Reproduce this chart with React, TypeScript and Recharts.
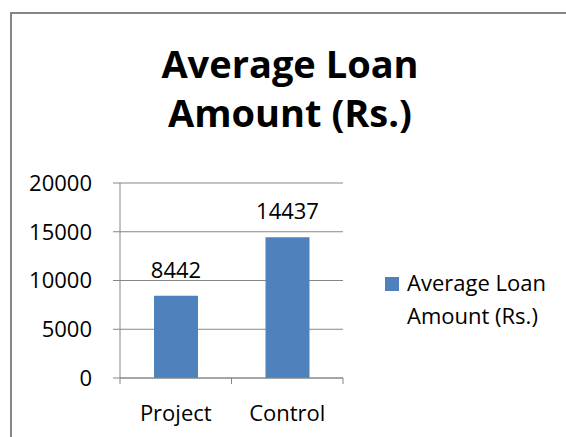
import React from 'react';
import { BarChart, Bar, XAxis, YAxis, CartesianGrid, Legend, LabelList } from 'recharts';

const categories = ['Project', 'Control'];
const loanAmounts = [8442, 14437];
const yTicks = [0, 5000, 10000, 15000, 20000];
const seriesName = 'Average Loan Amount (Rs.)';
const titleLines = ['Average Loan', 'Amount (Rs.)'];
const legendLines = ['Average Loan', 'Amount (Rs.)'];

const data = categories.map((name, i) => ({ name, value: loanAmounts[i] }));

const FONT = '"Open Sans", "Liberation Sans", sans-serif';
const GRAY = '#868686';
const BLUE = '#4F81BD';
const W = 566;
const H = 437;
const MARGIN = { top: 183, right: 223, bottom: 0, left: 0 };
const Y_AXIS_W = 120;
const PLOT_W = W - MARGIN.left - MARGIN.right - Y_AXIS_W;
const BAND = PLOT_W / categories.length;

// category labels with tick marks on the band edges (Excel style)
const XTick = (props: any) => {
  const { x, y, payload, index } = props;
  const half = BAND / 2;
  return (
    <g>
      <line x1={x - half} y1={y} x2={x - half} y2={y + 6} stroke={GRAY} />
      {index === categories.length - 1 && (
        <line x1={x + half} y1={y} x2={x + half} y2={y + 6} stroke={GRAY} />
      )}
      <text x={x} y={y + 43} textAnchor="middle" fill="#000" fontSize={22} fontFamily={FONT}>
        {payload.value}
      </text>
    </g>
  );
};

const LegendBox = () => (
  <div style={{ position: 'relative', fontFamily: FONT, fontSize: 22, color: '#000', lineHeight: '33px', textAlign: 'left' }}>
    <div style={{ position: 'absolute', left: 0, top: 11, width: 14, height: 14, background: BLUE }} />
    <div style={{ paddingLeft: 22, whiteSpace: 'nowrap' }}>
      {legendLines.map((l) => (
        <div key={l}>{l}</div>
      ))}
    </div>
  </div>
);

export default function App() {
  return (
    <div style={{ position: 'fixed', left: 0, top: 0, width: W, height: H, overflow: 'hidden', background: '#fff' }}>
      <div
        style={{
          position: 'absolute',
          left: 10,
          top: 12,
          width: 620,
          height: 480,
          border: `2px solid ${GRAY}`,
          boxSizing: 'border-box',
        }}
      />
      <div
        style={{
          position: 'absolute',
          left: 0,
          top: 39,
          width: 580,
          textAlign: 'center',
          fontFamily: FONT,
          fontWeight: 700,
          fontSize: 38,
          lineHeight: '49px',
          color: '#000',
        }}
      >
        {titleLines.map((l) => (
          <div key={l}>{l}</div>
        ))}
      </div>
      <div style={{ position: 'absolute', left: 0, top: 0 }}>
        <BarChart width={W} height={H} data={data} margin={MARGIN}>
          <CartesianGrid vertical={false} stroke={GRAY} />
          <XAxis
            dataKey="name"
            height={H - MARGIN.top - 195}
            axisLine={{ stroke: GRAY }}
            tickLine={false}
            tickSize={0}
            tickMargin={0}
            tick={<XTick />}
            interval={0}
          />
          <YAxis
            width={Y_AXIS_W}
            domain={[0, 20000]}
            ticks={yTicks}
            axisLine={{ stroke: GRAY }}
            tickLine={{ stroke: GRAY }}
            tickSize={7}
            tickMargin={21}
            tick={{ fill: '#000', fontSize: 22, fontFamily: FONT }}
          />
          <Legend
            layout="horizontal"
            verticalAlign="middle"
            align="center"
            wrapperStyle={{ left: 385, top: 266, width: 180 }}
            content={<LegendBox />}
          />
          <Bar dataKey="value" name={seriesName} fill={BLUE} barSize={44} isAnimationActive={false}>
            <LabelList dataKey="value" position="top" offset={18} fill="#000" fontSize={22} fontFamily={FONT} />
          </Bar>
        </BarChart>
      </div>
    </div>
  );
}
